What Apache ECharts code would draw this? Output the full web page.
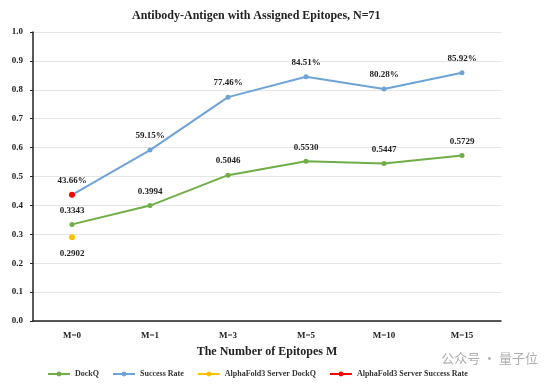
<!DOCTYPE html>
<html><head><meta charset="utf-8">
<script src="https://cdn.jsdelivr.net/npm/echarts@6/dist/echarts.min.js"></script>
<style>html,body{margin:0;padding:0;background:#fff}#c{width:550px;height:390px}</style>
</head><body><div id="c"></div>
<script>
const categories = ['M=0','M=1','M=3','M=5','M=10','M=15'];
const dockq = [0.3343,0.3994,0.5046,0.5530,0.5447,0.5729];
const successRate = [0.4366,0.5915,0.7746,0.8451,0.8028,0.8592];
const af3DockQ = [0.2902,null,null,null,null,null];
const af3Success = [0.4366,null,null,null,null,null];

const font = 'Liberation Serif';
const lbl = {show:true,fontFamily:font,fontWeight:'bold',fontSize:9,color:'#222'};
const chart = echarts.init(document.getElementById('c'));
chart.setOption({
  backgroundColor:'#fff',
  animation:false,
  title:{text:'Antibody-Antigen with Assigned Epitopes, N=71',left:127,top:5,
    textStyle:{fontFamily:font,fontWeight:'bold',fontSize:12,color:'#222'}},
  grid:{left:33,right:49,top:32,bottom:69},
  legend:{bottom:7,left:42,itemWidth:22,itemHeight:6,itemGap:13,
    textStyle:{fontFamily:font,fontWeight:'bold',fontSize:8,color:'#333'},
    data:['DockQ','Success Rate','AlphaFold3 Server DockQ','AlphaFold3 Server Success Rate']},
  xAxis:{type:'category',data:categories,boundaryGap:true,
    axisLine:{lineStyle:{color:'#222',width:1.5}},axisTick:{show:false},
    axisLabel:{fontFamily:font,fontWeight:'bold',fontSize:9,color:'#222',margin:10},
    name:'The Number of Epitopes M',nameLocation:'middle',nameGap:25,
    nameTextStyle:{fontFamily:font,fontWeight:'bold',fontSize:12,color:'#222'}},
  yAxis:{type:'value',min:0,max:1,interval:0.1,
    axisLine:{show:true,lineStyle:{color:'#222',width:1.5}},
    axisTick:{show:true,inside:false,length:3,lineStyle:{color:'#222'}},
    axisLabel:{fontFamily:font,fontWeight:'bold',fontSize:9,color:'#222',margin:10,
      formatter:v=>v.toFixed(1)},
    splitLine:{lineStyle:{color:'#e6e6e6'}}},
  series:[
    {name:'DockQ',type:'line',data:dockq,color:'#70AD47',symbol:'circle',symbolSize:5,
      lineStyle:{width:2},label:Object.assign({},lbl,{position:'top',distance:7,formatter:p=>p.value.toFixed(4)})},
    {name:'Success Rate',type:'line',data:successRate,color:'#6FA3D8',symbol:'circle',symbolSize:5,
      lineStyle:{width:2},label:Object.assign({},lbl,{position:'top',distance:7,formatter:p=>(p.value*100).toFixed(2)+'%'})},
    {name:'AlphaFold3 Server DockQ',type:'line',data:af3DockQ,color:'#FFC000',symbol:'circle',symbolSize:6,
      lineStyle:{width:2},label:Object.assign({},lbl,{position:'bottom',distance:9,formatter:p=>p.value.toFixed(4)})},
    {name:'AlphaFold3 Server Success Rate',type:'line',data:af3Success,color:'#FF0000',symbol:'circle',symbolSize:6,
      lineStyle:{width:2},z:5,label:{show:false}}
  ],
  graphic:[{type:'text',right:12,top:352,style:{text:'公众号 · 量子位',fontFamily:'Noto Sans CJK SC',fontSize:13,fill:'rgba(120,120,120,0.6)'}}]
});
</script></body></html>
